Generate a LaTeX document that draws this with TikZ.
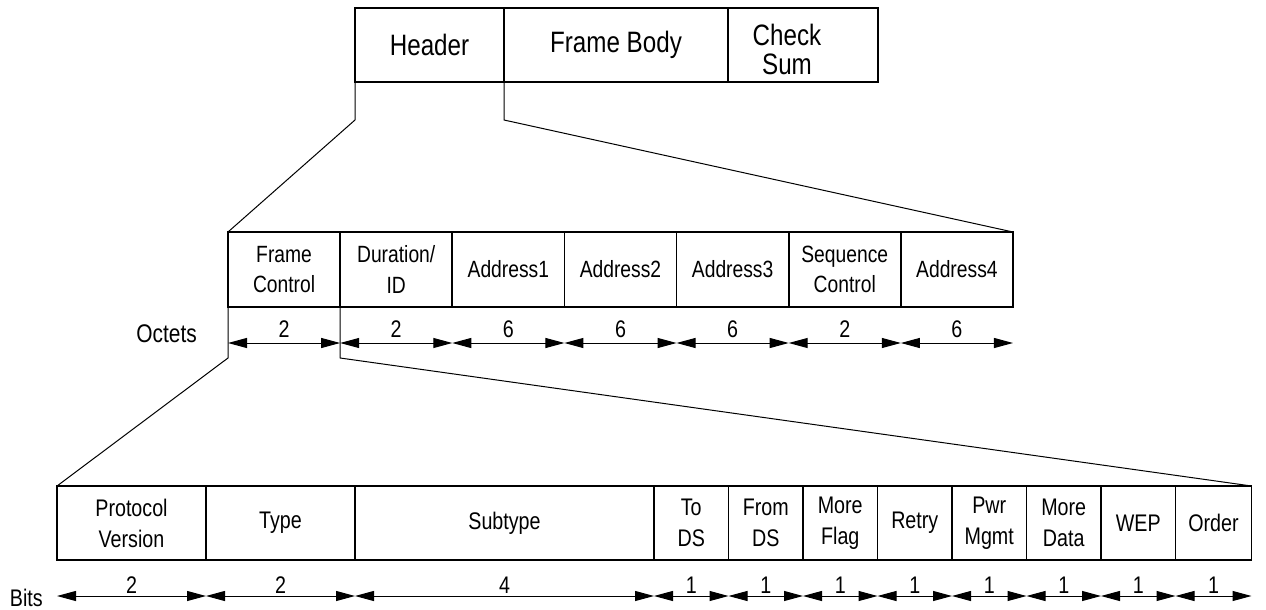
\documentclass[tikz,border=0pt]{standalone}
\usepackage{fontspec}
\setmainfont{Liberation Sans}[FakeStretch=0.82]
\usetikzlibrary{arrows.meta,calc}
\begin{document}
\begin{tikzpicture}[x=1pt,y=-1pt,
  cell/.style={draw, line width=1.7pt, rectangle, inner sep=0pt, outer sep=0pt, anchor=north west, align=center},
  topcell/.style={cell, minimum height=74pt, font=\fontsize{29.5}{29}\selectfont},
  midcell/.style={cell, minimum width=112.14pt, minimum height=75pt, font=\fontsize{23.5}{30.5}\selectfont},
  botcell/.style={cell, minimum height=74pt, font=\fontsize{24}{31}\selectfont},
  link/.style={line width=1pt},
  dimarrow/.style={line width=1pt, {Triangle[length=19pt,width=10pt]}-{Triangle[length=19pt,width=10pt]}},
  num/.style={font=\fontsize{24}{24}\selectfont, anchor=base, inner sep=0pt},
  sidelabel/.style={font=\fontsize{24}{24}\selectfont, anchor=base east, inner sep=0pt}
]
\useasboundingbox (0,0) rectangle (1266,610);

% top row
\node[topcell, minimum width=149pt] (hdr) at (355,8) {Header};
\node[topcell, minimum width=224pt] (body) at (504,8) {Frame Body};
\node[topcell, minimum width=150pt] (cs) at (728,8) {};
\node[font=\fontsize{29.5}{29}\selectfont, align=center, inner sep=0pt] (cstext) at (787,49) {Check\\Sum};

% middle row
\node[midcell] (fc) at (228,232) {Frame\\Control};
\node[midcell] (dur) at (340.14,232) {Duration/\\ID};
\node[midcell] (a1) at (452.28,232) {Address1};
\node[midcell] (a2) at (564.42,232) {Address2};
\node[midcell] (a3) at (676.56,232) {Address3};
\node[midcell] (sc) at (788.70,232) {Sequence\\Control};
\node[midcell] (a4) at (900.84,232) {Address4};

% bottom row
\node[botcell, minimum width=149pt] (pv) at (57,486) {Protocol\\Version};
\node[botcell, minimum width=149pt] (ty) at (206,486) {Type};
\node[botcell, minimum width=299pt] (st) at (355,486) {Subtype};
\node[botcell, minimum width=74.5pt] (tds) at (654,486) {To\\DS};
\node[botcell, minimum width=74.5pt] (fds) at (728.5,486) {From\\DS};
\node[botcell, minimum width=74.5pt] (mf) at (803,486) {More\\Flag};
\node[botcell, minimum width=74.5pt] (re) at (877.5,486) {Retry};
\node[botcell, minimum width=74.5pt] (pm) at (952,486) {Pwr\\Mgmt};
\node[botcell, minimum width=74.5pt] (md) at (1026.5,486) {More\\Data};
\node[botcell, minimum width=74.5pt] (wep) at (1101,486) {WEP};
\node[botcell, minimum width=76pt] (ord) at (1175.5,486) {Order};

% expansion connectors
\draw[link] (hdr.south west) -- ++(0,38) -- (fc.north west);
\draw[link] (hdr.south east) -- ++(0,38) -- (a4.north east);
\draw[link] (fc.south west) -- ++(0,51) -- (pv.north west);
\draw[link] (fc.south east) -- ++(0,51) -- (ord.north east);

% octet dimension arrows
\coordinate (ol) at (0,343);
\node[sidelabel, font=\fontsize{25.5}{25.5}\selectfont] (octets) at (197,342) {Octets};
\foreach \n/\v in {fc/2,dur/2,a1/6,a2/6,a3/6,sc/2,a4/6}{
  \draw[dimarrow] (\n.south west |- ol) -- (\n.south east |- ol);
  \node[num] (o\n) at ($(\n.south west |- ol)!0.5!(\n.south east |- ol)+(0,-6)$) {\v};
}

% bit dimension arrows
\coordinate (bl) at (0,596);
\node[sidelabel] (bits) at (43,606) {Bits};
\foreach \n/\v in {pv/2,ty/2,st/4,tds/1,fds/1,mf/1,re/1,pm/1,md/1,wep/1,ord/1}{
  \draw[dimarrow] (\n.south west |- bl) -- (\n.south east |- bl);
  \node[num] (b\n) at ($(\n.south west |- bl)!0.5!(\n.south east |- bl)+(0,-3)$) {\v};
}
\end{tikzpicture}
\end{document}
